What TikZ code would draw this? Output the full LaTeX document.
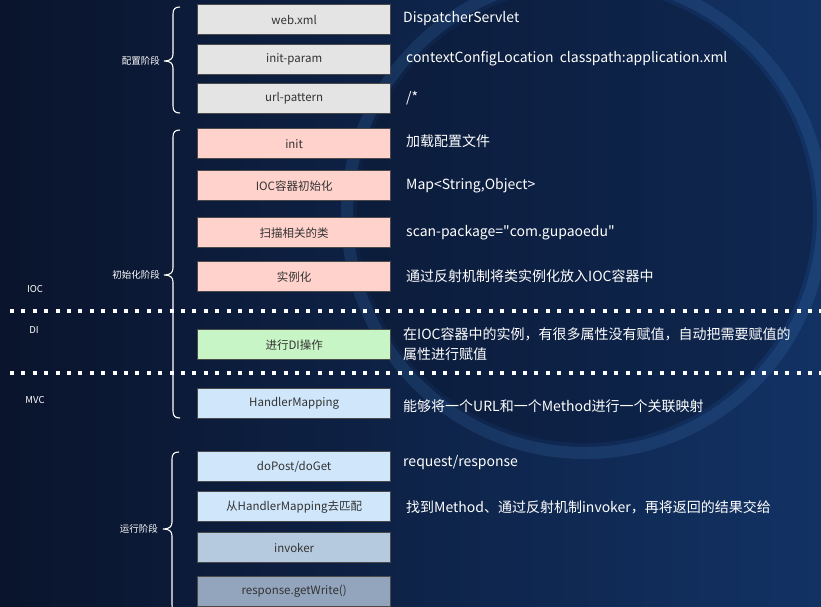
\documentclass[tikz,border=0pt]{standalone}
\usepackage{fontspec}
\setmainfont{Noto Sans CJK SC}
\font\plainq="Noto Sans CJK SC" at 14pt
\usetikzlibrary{positioning}
\definecolor{bgL}{HTML}{0A142C}
\definecolor{bgR}{HTML}{123264}
\definecolor{cgray}{HTML}{E4E4E4}
\definecolor{cpink}{HTML}{FFD2CC}
\definecolor{cgreen}{HTML}{C8F5C6}
\definecolor{cblue}{HTML}{CFE6FB}
\definecolor{cblueb}{HTML}{B6CADF}
\definecolor{cbluec}{HTML}{92A5BD}
\definecolor{boxline}{HTML}{4A4A4A}
\definecolor{boxtext}{HTML}{333333}
\definecolor{ringc}{HTML}{3E78B8}
\newcommand\phasebrace[4]{% x-spine, ytop, ymid, ybot
  \draw[bracestyle] (#1+7,#2) .. controls (#1+2,#2) and (#1,#2+2) .. (#1,#2+7)
    -- (#1,#3-7) .. controls (#1,#3-2) and (#1-3,#3) .. (#1-9,#3)
    .. controls (#1-3,#3) and (#1,#3+2) .. (#1,#3+7)
    -- (#1,#4-7) .. controls (#1,#4-2) and (#1+2,#4) .. (#1+7,#4);}
\newcommand\sq{{\plainq"}}
\tikzset{
  stepbox/.style={draw=boxline, line width=1.3pt, minimum width=193pt, minimum height=30pt,
    anchor=north west, inner sep=0pt, text=boxtext, font=\fontsize{11.5}{13}\selectfont},
  desc/.style={anchor=west, text=white, inner sep=0pt, font=\fontsize{14}{19.5}\selectfont},
  phase/.style={anchor=east, text=white, inner sep=0pt, font=\fontsize{9.5}{11}\selectfont},
  side/.style={text=white, inner sep=0pt, font=\fontsize{9.5}{11}\selectfont},
  bracestyle/.style={draw=white, line width=1.1pt},
  dotline/.style={draw=white, line width=4pt, dash pattern=on 4pt off 7.4pt}
}
\begin{document}
\begin{tikzpicture}[x=1pt,y=-1pt]
\useasboundingbox (0,0) rectangle (821,606);
% background
\shade[left color=bgL, right color=bgR] (0,0) rectangle (821,606);
\fill[bgL, opacity=0.35] (585,215) circle (228);
\draw[ringc, line width=12pt, opacity=0.2] (585,215) circle (238);
% dotted separators
\coordinate (d1a) at (10,311); \coordinate (d1b) at (821,311);
\coordinate (d2a) at (10,373); \coordinate (d2b) at (821,373);
\draw[dotline] (d1a) -- (d1b);
\draw[dotline] (d2a) -- (d2b);
% boxes
\node[stepbox, fill=cgray] (webxml) at (197,4) {web.xml};
\node[stepbox, fill=cgray] (initparam) at (197,44) {init-param};
\node[stepbox, fill=cgray] (urlpat) at (197,83) {url-pattern};
\node[stepbox, fill=cpink] (init) at (197,128) {init};
\node[stepbox, fill=cpink] (iocinit) at (197,170) {IOC容器初始化};
\node[stepbox, fill=cpink] (scan) at (197,217) {扫描相关的类};
\node[stepbox, fill=cpink] (inst) at (197,261) {实例化};
\node[stepbox, fill=cgreen] (di) at (197,329) {进行DI操作};
\node[stepbox, fill=cblue] (hm) at (197,388) {HandlerMapping};
\node[stepbox, fill=cblue] (dopost) at (197,451) {doPost/doGet};
\node[stepbox, fill=cblue] (match) at (197,491) {从HandlerMapping去匹配};
\node[stepbox, fill=cblueb] (invoker) at (197,532) {invoker};
\node[stepbox, fill=cbluec] (resp) at (197,576) {response.getWrite()};
% descriptions
\node[desc] (t1) at (403,19) {DispatcherServlet};
\node[desc] (t2) at (406,59) {contextConfigLocation\ \ classpath:application.xml};
\node[desc] (t3) at (406,98) {/*};
\node[desc] (t4) at (406,141) {加载配置文件};
\node[desc] (t5) at (406,186) {Map<String,Object>};
\node[desc] (t6) at (406,233) {scan-package=\sq com.gupaoedu\sq};
\node[desc] (t7) at (406,276) {通过反射机制将类实例化放入IOC容器中};
\node[desc, align=left] (t8) at (403,344) {在IOC容器中的实例，有很多属性没有赋值，自动把需要赋值的\\属性进行赋值};
\node[desc] (t9) at (403,406) {能够将一个URL和一个Method进行一个关联映射};
\node[desc] (t10) at (403,463) {request/response};
\node[desc] (t11) at (406,507) {找到Method、通过反射机制invoker，再将返回的结果交给};
% braces and phase labels
\phasebrace{173}{7}{61}{113}
\phasebrace{173}{130}{275}{418}
\phasebrace{172}{452}{529}{612}
\node[phase] (p1) at (160,61) {配置阶段};
\node[phase] (p2) at (160,275) {初始化阶段};
\node[phase] (p3) at (158,529) {运行阶段};
% side labels
\node[side] (ioc) at (35,289) {IOC};
\node[side] (dil) at (34,330) {DI};
\node[side] (mvc) at (35,400) {MVC};
\end{tikzpicture}
\end{document}
